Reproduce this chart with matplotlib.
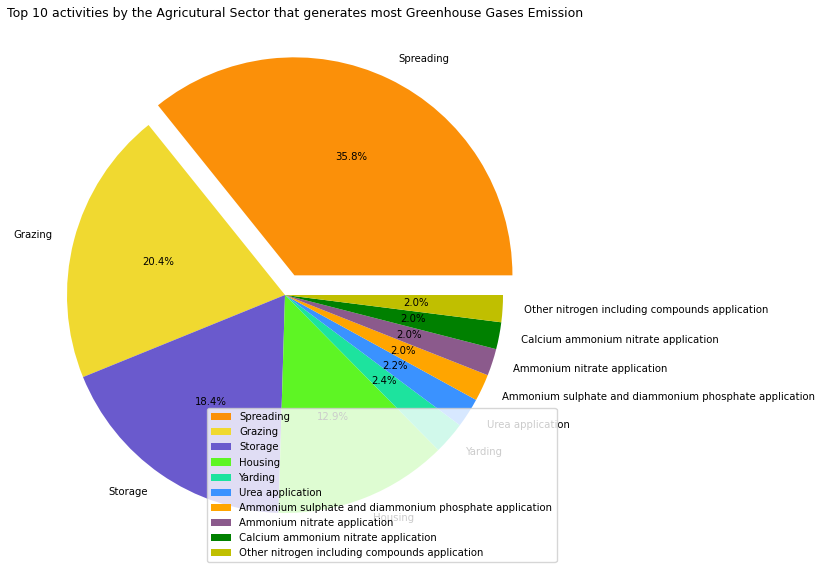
import matplotlib
matplotlib.use("Agg")
import matplotlib.pyplot as plt

activities = ["Spreading", "Grazing", "Storage", "Housing", "Yarding", "Urea application",
              "Ammonium sulphate and diammonium phosphate application",
              "Ammonium nitrate application", "Calcium ammonium nitrate application",
              "Other nitrogen including compounds application"]
shares = [35.8, 20.4, 18.4, 12.9, 2.4, 2.2, 2.0, 2.0, 2.0, 2.0]
colors = ["#FB9009", "#F0D930", "#6A5ACD", "#5EF524", "#1DE39E", "#3A92FF",
          "#FFA500", "#8B5A8C", "#008000", "#C0BF00"]
explode = [0.1] + [0] * 9

fig = plt.figure(figsize=(8.18, 5.74), dpi=100)
W, H = 818, 574
cx, cy, r = 285, 574 - 295, 218
half = 1.3 * r
ax = fig.add_axes([(cx - half) / W, (cy - half) / H, 2 * half / W, 2 * half / H])
ax.pie(shares, labels=activities, colors=colors, explode=explode, autopct="%1.1f%%",
       startangle=0, textprops={"fontsize": 7.3})
ax.set_xlim(-1.3, 1.3)
ax.set_ylim(-1.3, 1.3)
ax.set_aspect("equal")
ax.axis("off")

fig.text(7 / W, 1 - 13 / H, "Top 10 activities by the Agricutural Sector that generates most Greenhouse Gases Emission",
         fontsize=9, va="center", ha="left")
fig.legend(activities, loc="lower left", bbox_to_anchor=(207 / W, 12 / H), fontsize=7.3,
           framealpha=0.8, handlelength=2, labelspacing=0.5, borderaxespad=0)
fig.savefig("out.png", dpi=100)
